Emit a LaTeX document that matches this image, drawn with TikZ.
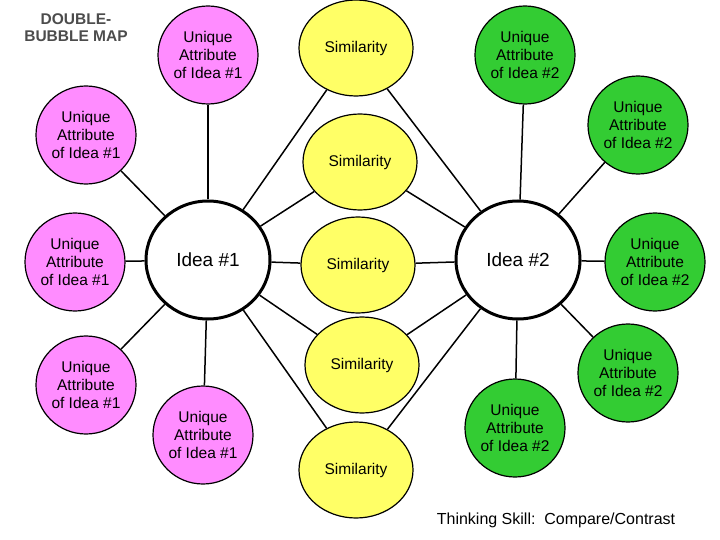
\documentclass[tikz,border=0pt]{standalone}
\usepackage{fontspec}
\setmainfont{Liberation Sans}
\usetikzlibrary{shapes.geometric}
\begin{document}
\begin{tikzpicture}[x=1pt,y=-1pt,
 bub/.style={ellipse,draw=black,line width=1.2pt,align=center,font=\fontsize{15.5}{18}\selectfont,inner sep=0pt},
 pink/.style={bub,fill={rgb,255:red,255;green,140;blue,255},minimum width=#1,minimum height=98},
 sim/.style={bub,fill={rgb,255:red,255;green,255;blue,102},minimum width=114,minimum height=96},
 grn/.style={bub,fill={rgb,255:red,51;green,204;blue,51},minimum width=#1,minimum height=98},
 idea/.style={bub,fill=white,line width=3pt,minimum width=124,minimum height=118,font=\fontsize{19}{22}\selectfont},
 ln/.style={line width=1.5pt}]
\useasboundingbox (0,0) rectangle (720,540);
\node[idea] (i1) at (208,260) {Idea \#1};
\node[idea] (i2) at (518,260) {Idea \#2};
\node[pink=100] (p1) at (208,55) {Unique\\Attribute\\of Idea \#1};
\node[pink=100] (p2) at (86,135) {Unique\\Attribute\\of Idea \#1};
\node[pink=100] (p3) at (75,262) {Unique\\Attribute\\of Idea \#1};
\node[pink=100] (p4) at (86,385) {Unique\\Attribute\\of Idea \#1};
\node[pink=100] (p5) at (203,435) {Unique\\Attribute\\of Idea \#1};
\node[sim] (s1) at (356,48) {Similarity};
\node[sim] (s2) at (360,162) {Similarity};
\node[sim] (s3) at (358,265) {Similarity};
\node[sim] (s4) at (362,365) {Similarity};
\node[sim] (s5) at (356,470) {Similarity};
\node[grn=100] (g1) at (525,55) {Unique\\Attribute\\of Idea \#2};
\node[grn=100] (g2) at (638,125) {Unique\\Attribute\\of Idea \#2};
\node[grn=100] (g3) at (655,262) {Unique\\Attribute\\of Idea \#2};
\node[grn=100] (g4) at (628,373) {Unique\\Attribute\\of Idea \#2};
\node[grn=100] (g5) at (515,428) {Unique\\Attribute\\of Idea \#2};
\foreach \a/\b in {i1/p1,i1/p2,i1/p3,i1/p4,i1/p5,i1/s1,i1/s2,i1/s3,i1/s4,i1/s5,i2/s1,i2/s2,i2/s3,i2/s4,i2/s5,i2/g1,i2/g2,i2/g3,i2/g4,i2/g5}
  \draw[ln] (\a) -- (\b);
\node[align=center,font=\bfseries\fontsize{15.5}{17}\selectfont,text=black!70] (t) at (76,28) {DOUBLE-\\BUBBLE MAP};
\node[font=\fontsize{16}{18}\selectfont] (ts) at (556,520) {Thinking Skill:\ \ Compare/Contrast};
\end{tikzpicture}
\end{document}
